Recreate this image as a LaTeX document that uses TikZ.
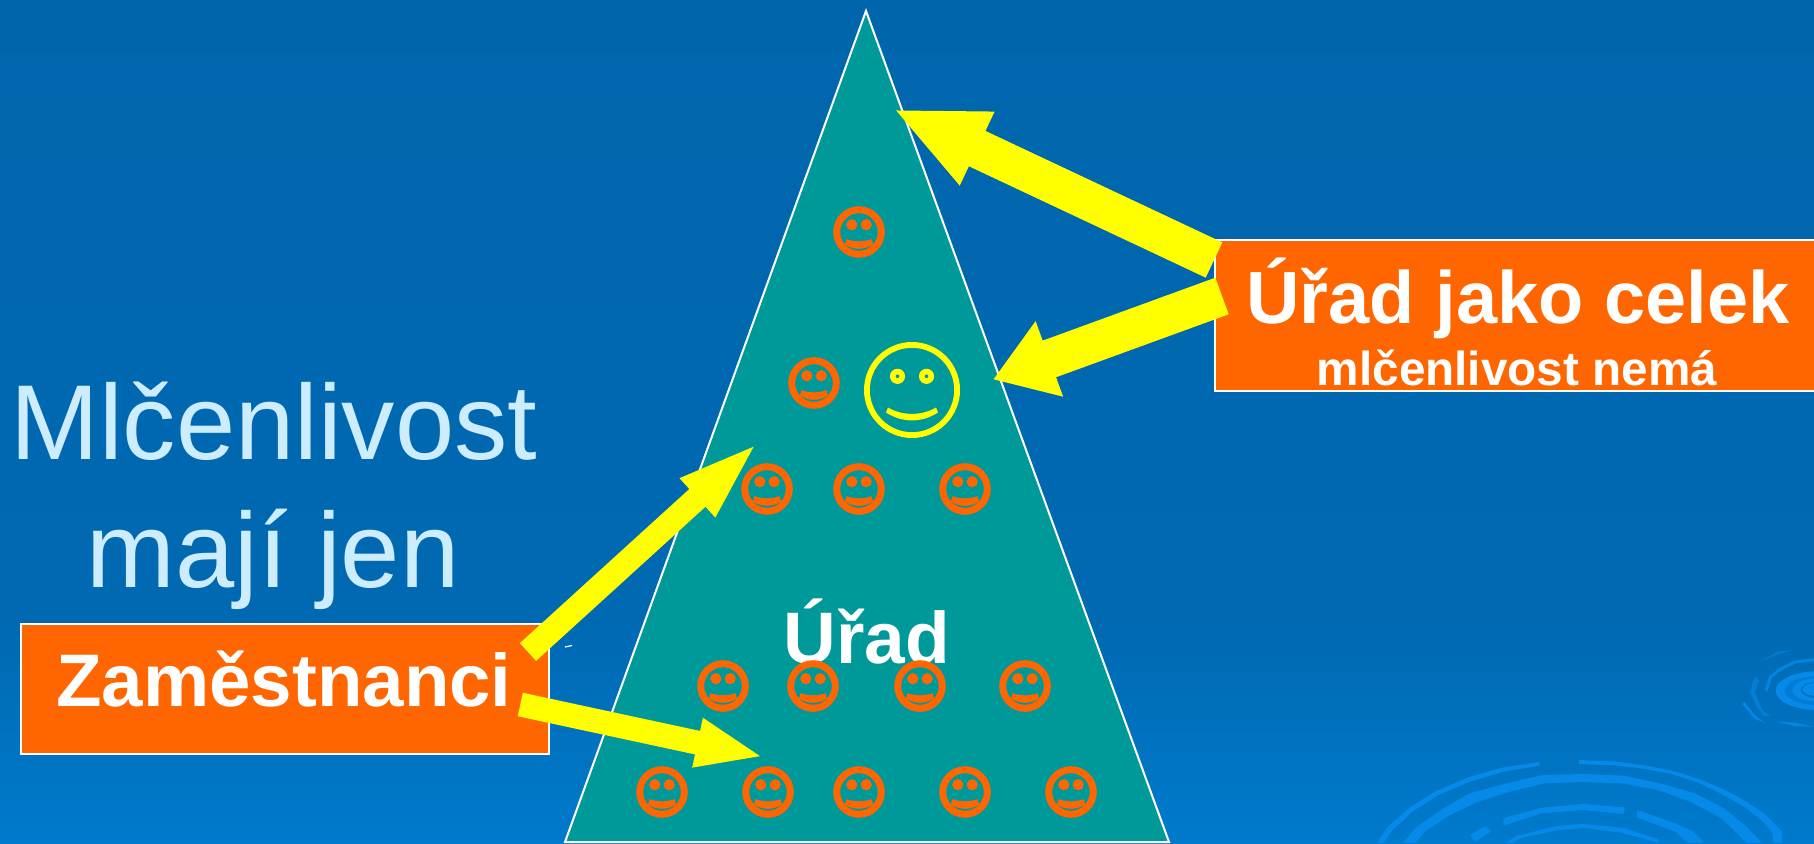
\documentclass[tikz,border=0pt]{standalone}
\usepackage{fontspec}
\setmainfont{Liberation Sans}
\usetikzlibrary{arrows.meta}
\definecolor{bgtop}{RGB}{0,102,172}
\definecolor{bgmid}{RGB}{0,105,178}
\definecolor{bgbot}{RGB}{0,122,204}
\definecolor{ripple}{RGB}{6,138,234}
\definecolor{ripdark}{RGB}{0,112,192}
\definecolor{ripmid}{RGB}{0,124,214}
\definecolor{teal}{RGB}{0,153,153}
\definecolor{orangeb}{RGB}{255,102,0}
\definecolor{lightb}{RGB}{204,236,255}
\definecolor{yelw}{RGB}{255,255,0}
\newcommand{\fsz}[1]{\fontsize{#1}{#1}\selectfont}
\tikzset{
  x=1pt,y=-1pt,
  orangebox/.style={draw=white,line width=1.5pt,fill=orangeb},
  yarrow/.style={draw=yelw,fill=yelw,line width=#1},
  lbl/.style={inner sep=0pt,anchor=base,text=white,font=\bfseries},
  smile/.pic={
    \fill[orangeb,even odd rule] (0,0) circle[radius=25.8] (0,0) circle[radius=18.8];
    \fill[orangeb] (-7.2,-7.3) circle[radius=5.6] (7.2,-7.3) circle[radius=5.6];
    \fill[orangeb] (-12.5,7.2) .. controls (-4,10) and (4,10) .. (12.5,7.2) -- (14,12.5) .. controls (5,18.2) and (-5,18.2) .. (-14,12.5) -- cycle;
  },
  bigsmile/.pic={
    \fill[yelw,even odd rule] (0,0) circle[radius=48] (0,0) circle[radius=42.2];
    \fill[yelw,even odd rule] (-14.5,-13.7) circle[radius=7.6] (-14.5,-13.7) circle[radius=2];
    \fill[yelw,even odd rule] (14.5,-13.7) circle[radius=7.6] (14.5,-13.7) circle[radius=2];
    \fill[yelw] (-24,17.5) .. controls (-10,26) and (10,26) .. (24,17.5) -- (26,22.5) .. controls (10,33) and (-10,33) .. (-26,22.5) -- cycle;
  }
}
\begin{document}
\begin{tikzpicture}
\useasboundingbox (0,0) rectangle (1814,843);
\shade[top color=bgtop,bottom color=bgmid] (0,0) rectangle (1814,620.5);
\shade[top color=bgmid,bottom color=bgbot] (0,620) rectangle (1814,843);
\begin{scope}
\clip (0,0) rectangle (1814,843);
\begin{scope}[shift={(1300,620)},x=0.3333pt,y=-0.3333pt,fill=ripple]
\fill (230,669)--(262,622)--(330,562)--(405,515)--(505,472)--(605,443)--(718,426)--(718,437)--(610,455)--(510,485)--(415,525)--(340,573)--(278,630)--(250,669)--cycle;
\fill (837,420)--(950,425)--(1040,437)--(1120,453)--(1205,480)--(1275,510)--(1340,545)--(1400,587)--(1447,635)--(1447,669)--(1420,669)--(1418,640)--(1395,610)--(1340,565)--(1280,530)--(1200,490)--(1115,462)--(1035,447)--(950,436)--(837,432)--cycle;
\fill (310,669)--(345,625)--(430,565)--(510,520)--(620,490)--(730,465)--(850,462)--(968,467)--(1080,490)--(1185,520)--(1275,567)--(1345,625)--(1385,669)--(1340,669)--(1265,595)--(1170,545)--(1075,510)--(965,490)--(850,486)--(735,490)--(630,515)--(535,545)--(450,585)--(375,635)--(345,669)--cycle;
\fill (610,595)--(725,563)--(850,552)--(975,562)--(970,582)--(850,570)--(725,580)--(610,617)--cycle;
\fill (1012,570)--(1130,612)--(1180,635)--(1215,669)--(1165,669)--(1125,635)--(1010,592)--cycle;
\fill (510,645)--(557,617)--(573,635)--(525,665)--cycle;
\fill (615,669)--(650,648)--(770,618)--(850,612)--(970,624)--(1075,658)--(1075,669)--(965,638)--(850,624)--(775,630)--(660,655)--(640,669)--cycle;
\end{scope}
\begin{scope}[shift={(1734,630)},x=0.3333pt,y=-0.3333pt]
\fill[ripple] (250,182) ellipse[x radius=125,y radius=58];
\fill[ripmid] (250,182) ellipse[x radius=98,y radius=43];
\fill[ripple] (250,180) ellipse[x radius=75,y radius=35];
\fill[ripdark] (250,180) ellipse[x radius=50,y radius=24];
\fill[ripple] (250,178) ellipse[x radius=45,y radius=20];
\fill[ripple,opacity=.55] (82,92)--(130,66)--(175,60)--(130,74)--cycle;
\fill[ripple,opacity=.85] (92,180)--(105,140)--(135,115)--(180,92)--(240,85)--(240,93)--(185,100)--(140,122)--(112,145)--(100,185)--cycle;
\fill[ripple,opacity=.6] (62,140)--(48,185)--(65,225)--(90,258)--(110,258)--(85,240)--(70,205)--(62,185)--(75,150)--cycle;
\fill[ripple,opacity=.9] (25,222)--(31,216)--(62,255)--(95,280)--(60,265)--cycle;
\fill[ripple,opacity=.9] (125,275)--(180,278)--(240,290)--(180,288)--cycle;
\end{scope}
\end{scope}

\node[lbl,text=lightb,font=\fsz{106.5}] (t1) at (274,459) {Mlčenlivost};
\node[lbl,text=lightb,font=\fsz{106.5}] (t2) at (273,587) {mají jen};

\path[draw=white,line width=2pt,fill=teal] (866,11) -- (1169,842) -- (565,842) -- cycle;
\coordinate (ticka) at (565,647); \coordinate (tickb) at (572,645.5);
\draw[white,line width=1.2pt] (ticka) -- (tickb);

\node[lbl,font=\bfseries\fsz{73}] (urad) at (867,663) {Úřad};

\foreach \n/\px/\py in {a/859/232,b/814/383,c/767/489,d/859/489,e/965/489,f/723/686,g/813/686,h/920/686,i/1025/686,j/662/792,k/768/792,l/859/792,m/965/792,o/1071/792}
  \pic (s\n) at (\px,\py) {smile};
\pic (sbig) at (912,390) {bigsmile};

\node[orangebox,minimum width=528pt,minimum height=130pt,inner sep=0pt,anchor=north west] (zam) at (20,623) {};
\node[lbl,font=\bfseries\fsz{74.5}] (zamt) at (284,706) {Zaměstnanci};
\node[orangebox,minimum width=610pt,minimum height=151pt,inner sep=0pt,anchor=north west] (cel) at (1214,239) {};
\node[lbl,font=\bfseries\fsz{74}] (celt) at (1518,323) {Úřad jako celek};
\node[lbl,font=\bfseries\fsz{47.7}] (celt2) at (1517,385) {mlčenlivost nemá};

\coordinate (a1s) at (528,652); \coordinate (a1e) at (761,440);
\coordinate (a2s) at (520.3,704.5); \coordinate (a2e) at (764,757);
\coordinate (a3s) at (1214,260); \coordinate (a3e) at (893,109);
\coordinate (a4s) at (1222,296); \coordinate (a4e) at (993,379.5);
\draw[yarrow=24pt,-{Triangle[length=86pt,width=45pt,sep=0pt]}] (a1s) -- (a1e);
\draw[yarrow=24pt,-{Triangle[length=68pt,width=45pt,sep=0pt]}] (a2s) -- (a2e);
\draw[yarrow=39pt,-{Triangle[length=93pt,width=74pt,sep=0pt]}] (a3s) -- (a3e);
\draw[yarrow=39pt,-{Triangle[length=60pt,width=76pt,sep=0pt]}] (a4s) -- (a4e);
\end{tikzpicture}
\end{document}
